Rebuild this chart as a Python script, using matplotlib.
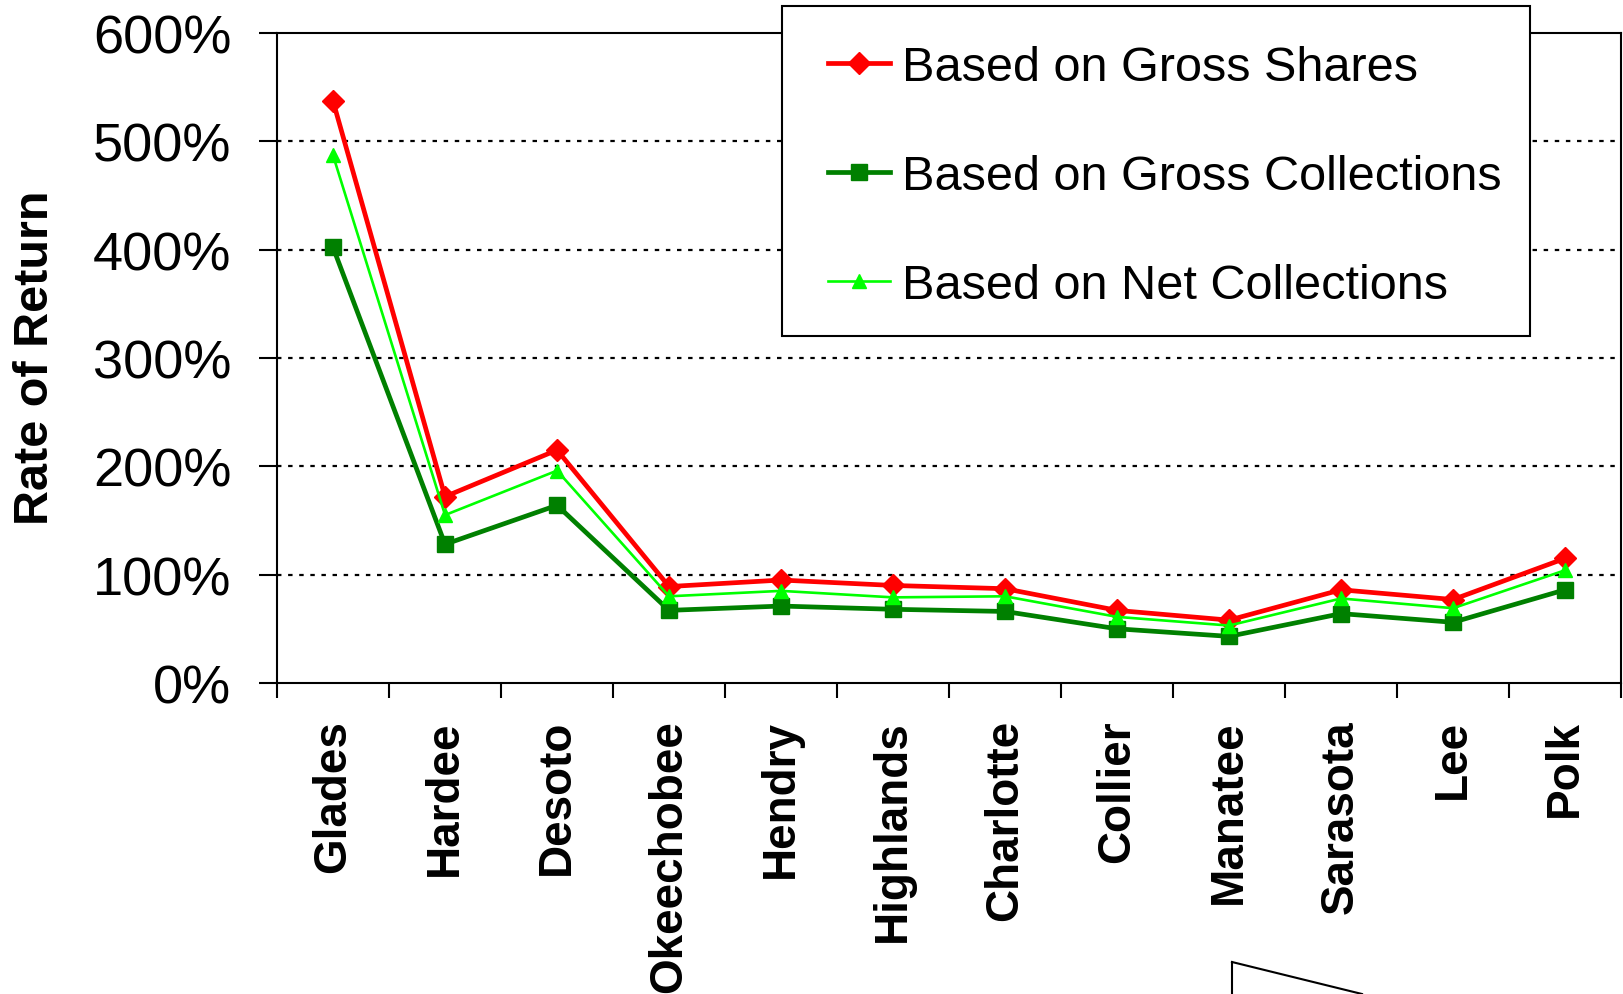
import numpy as np
import matplotlib.pyplot as plt
from matplotlib.lines import Line2D
from matplotlib.patches import Rectangle
from matplotlib.ticker import FuncFormatter

plt.rcParams['font.family'] = ['Liberation Sans', 'DejaVu Sans']

# County names and rate of return (%)
counties = ["Glades", "Hardee", "Desoto", "Okeechobee", "Hendry", "Highlands",
            "Charlotte", "Collier", "Manatee", "Sarasota", "Lee", "Polk"]
gross_shares = [537, 172, 215, 89, 95, 90, 87, 67, 58, 86, 77, 115]
gross_collections = [402, 128, 164, 67, 71, 68, 66, 50, 43, 64, 56, 86]
net_collections = [487, 155, 196, 80, 85, 79, 80, 61, 53, 78, 69, 104]

y_ticks = [0, 100, 200, 300, 400, 500, 600]

fig = plt.figure(figsize=(16.23, 9.95), dpi=100)
ax = fig.add_axes([0.1707, 0.3126, 0.8281, 0.6533])

x = np.arange(len(counties))
ax.plot(x, gross_shares, color="#FF0000", lw=3.4, marker="D", ms=11,
        label="Based on Gross Shares", zorder=3)
ax.plot(x, gross_collections, color="#008000", lw=3.4, marker="s", ms=11,
        label="Based on Gross Collections", zorder=3)
ax.plot(x, net_collections, color="#00FF00", lw=1.9, marker="^", ms=10,
        label="Based on Net Collections", zorder=4)

ax.set_xlim(-0.5, len(counties) - 0.5)
ax.set_ylim(0, 600)

# y axis
ax.set_yticks(y_ticks)
ax.yaxis.set_major_formatter(FuncFormatter(lambda v, p: "%d%%" % v))
ax.tick_params(axis="y", direction="out", length=13, width=1.5, pad=20, labelsize=39)
for v in y_ticks[1:-1]:
    ax.axhline(v, color="black", lw=1.6, ls=(0, (2, 3)), zorder=1)

# x axis: ticks between categories, labels at centres
ax.set_xticks(np.arange(-0.5, len(counties)), minor=False)
ax.set_xticklabels([])
ax.set_xticks(x, minor=True)
ax.set_xticklabels(counties, minor=True, rotation=90, fontsize=33,
                   fontweight="bold", va="top", ha="center")
ax.tick_params(axis="x", which="major", direction="out", length=11, width=1.5)
ax.tick_params(axis="x", which="minor", length=0, pad=26)

for s in ax.spines.values():
    s.set_linewidth(1.5)

ax.set_ylabel("Rate of Return", fontsize=35, fontweight="bold")
ax.yaxis.set_label_coords(-0.163, 0.502)

# legend box drawn by hand so the padding matches
box = Rectangle((0.3757, 0.5338), 0.5566, 0.5077, transform=ax.transAxes,
                facecolor="white", edgecolor="black", lw=1.5, clip_on=False, zorder=5)
ax.add_patch(box)
leg = ax.legend(loc="upper left", bbox_to_anchor=(0.41, 0.981), frameon=False,
                fontsize=35, handlelength=1.27, handletextpad=0.25,
                labelspacing=1.31, borderpad=0, borderaxespad=0)
leg.set_zorder(6)

# piece of a shape cut off at the bottom edge of the picture
fig.add_artist(Line2D([1232 / 1623, 1232 / 1623], [0, 1 - 963 / 995],
                      color="black", lw=1.5))
fig.add_artist(Line2D([1232 / 1623, 1362 / 1623], [1 - 963 / 995, 0],
                      color="black", lw=1.5))

plt.savefig("out.png", dpi=100)
